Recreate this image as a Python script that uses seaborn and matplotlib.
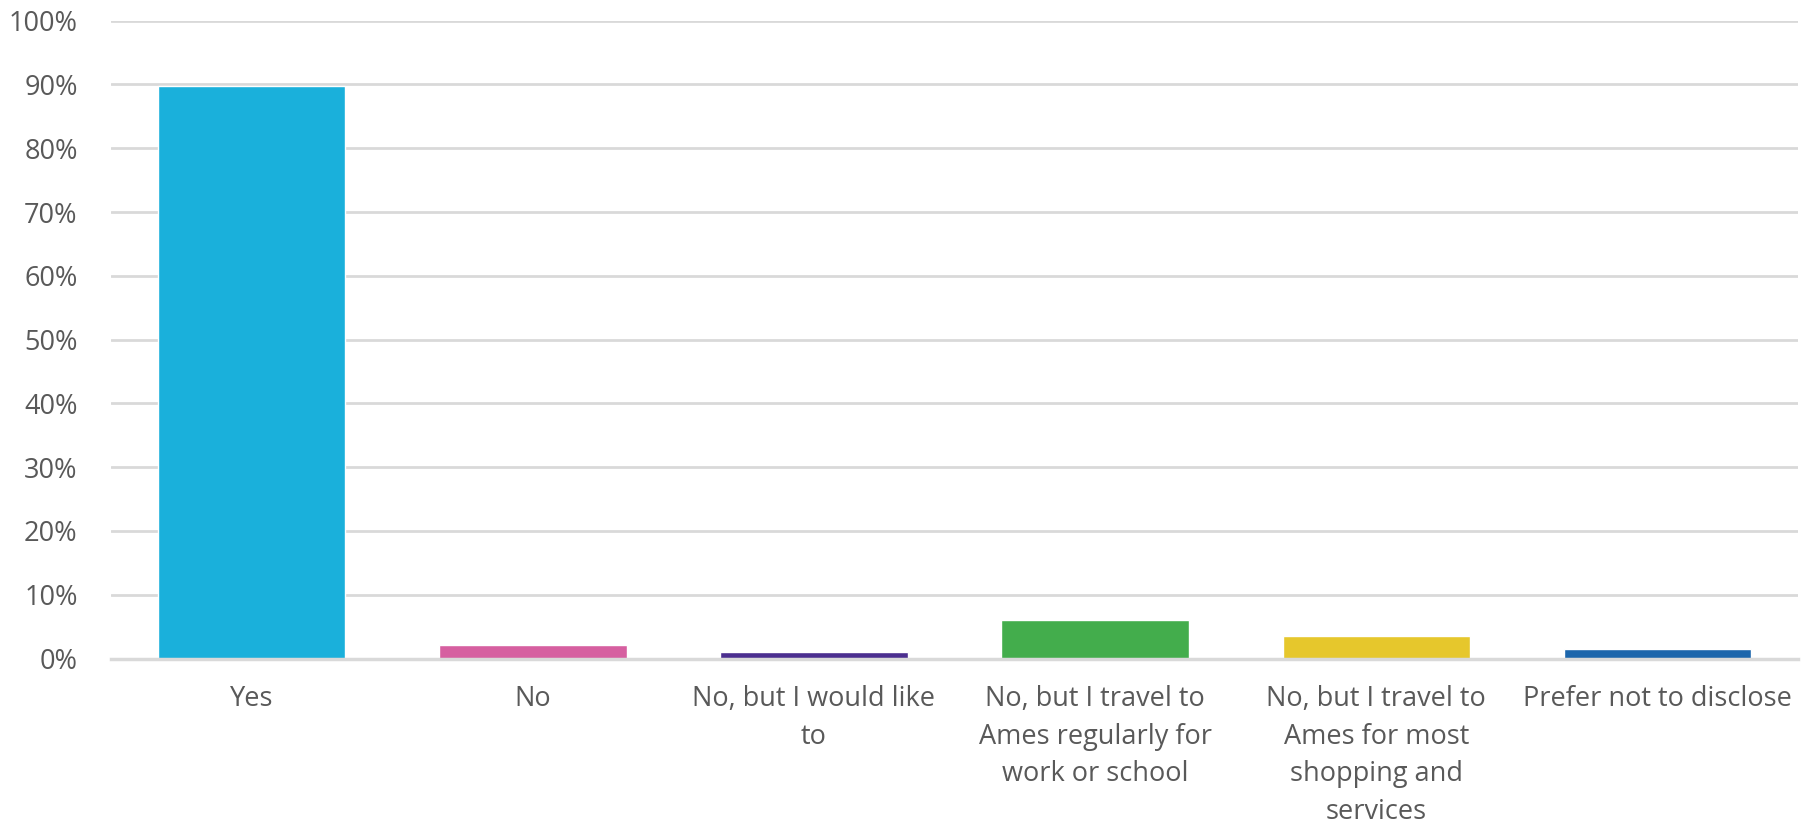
import matplotlib
matplotlib.use('Agg')
import matplotlib.pyplot as plt
import seaborn as sns
import pandas as pd
from matplotlib.ticker import PercentFormatter

# survey answers and share of respondents (%)
answers = ['Yes', 'No', 'No, but I would like\nto',
           'No, but I travel to\nAmes regularly for\nwork or school',
           'No, but I travel to\nAmes for most\nshopping and\nservices',
           'Prefer not to disclose']
shares = [89.8, 2.1, 1.1, 6.0, 3.6, 1.5]
colors = ['#1ab0db', '#d65fa0', '#4b2e8f', '#43ad4c', '#e6c72c', '#1c66ac']

data = pd.DataFrame({'answer': answers, 'share': shares})

sns.set_style('white')
plt.rcParams['font.family'] = ['Open Sans', 'DejaVu Sans']

fig = plt.figure(figsize=(18.02, 8.27), dpi=100)
ax = fig.add_axes([0.0616, 0.2037, 0.9362, 0.7713])

sns.barplot(x='answer', y='share', data=data, hue='answer', palette=colors,
            legend=False, width=0.667, saturation=1, ax=ax)

ax.set_ylim(0, 100)
ax.set_xlim(-0.5, 5.5)
ax.set_yticks(range(0, 101, 10))
ax.yaxis.set_major_formatter(PercentFormatter(decimals=0))
ax.yaxis.grid(True, color='#d9d9d9', linewidth=2)
ax.set_axisbelow(True)
for s in ['top', 'right', 'left']:
    ax.spines[s].set_visible(False)
ax.spines['bottom'].set_color('#d9d9d9')
ax.spines['bottom'].set_linewidth(2.5)
ax.spines['bottom'].set_zorder(3)
ax.set_xlabel('')
ax.set_ylabel('')
ax.tick_params(axis='y', length=0, pad=24, labelsize=19.5, labelcolor='#595959')
ax.tick_params(axis='x', length=0, pad=19, labelsize=19.5, labelcolor='#595959')
for t in ax.get_xticklabels():
    t.set_linespacing(1.46)

fig.savefig('out.png', dpi=100)
